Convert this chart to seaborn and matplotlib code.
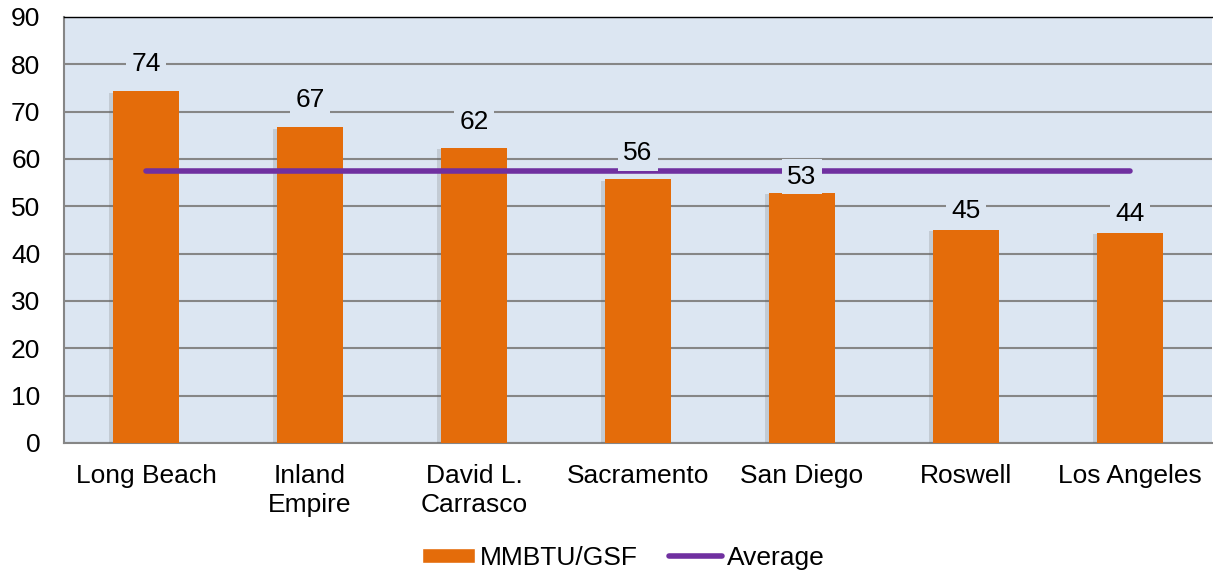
import numpy as np
import pandas as pd
import matplotlib
matplotlib.use('Agg')
import matplotlib.pyplot as plt
import matplotlib.patheffects as pe
from matplotlib.patches import Patch
from matplotlib.lines import Line2D
import seaborn as sns

sites = ['Long Beach', 'Inland\nEmpire', 'David L.\nCarrasco', 'Sacramento',
         'San Diego', 'Roswell', 'Los Angeles']
mmbtu = [74.3, 66.7, 62.4, 55.7, 52.9, 45.0, 44.4]
bar_labels = ['74', '67', '62', '56', '53', '45', '44']
average = [57.4] * len(sites)

# gap between bar top and label centre, in data units (Excel nudges some)
label_gap = [5.7, 5.7, 5.5, 5.5, 3.4, 4.0, 4.0]

ORANGE = '#e46c0a'
PURPLE = '#7030a0'
BG = '#dce6f2'
GRID = '#868686'

sns.set_style('white')
plt.rcParams['font.family'] = ['Liberation Sans', 'DejaVu Sans']
plt.rcParams['text.color'] = 'black'
plt.rcParams['xtick.labelcolor'] = 'black'
plt.rcParams['ytick.labelcolor'] = 'black'

df = pd.DataFrame({'site': sites, 'value': mmbtu, 'avg': average})

fig = plt.figure(figsize=(12.13, 5.78), dpi=100)
ax = fig.add_axes([0.0528, 0.2336, 0.9464, 0.737])
ax.set_facecolor(BG)

sns.barplot(data=df, x='site', y='value', color=ORANGE, saturation=1,
            width=0.4, linewidth=0, ax=ax, zorder=3)
for bar in ax.patches:
    bar.set_path_effects([pe.SimplePatchShadow(offset=(-3, -1), shadow_rgbFace='#606060',
                                               alpha=0.2), pe.Normal()])

sns.lineplot(x=np.arange(len(sites)), y=df['avg'], color=PURPLE, lw=4,
             ax=ax, zorder=4)

for i, (v, lab, g) in enumerate(zip(mmbtu, bar_labels, label_gap)):
    ax.text(i, v + g, lab, ha='center', va='center', fontsize=19, zorder=5,
            bbox=dict(boxstyle='square,pad=0.2', fc=BG, ec='none'))

ax.set_xlim(-0.5, len(sites) - 0.5)
ax.set_ylim(0, 90)
ax.set_yticks(range(0, 91, 10))
ax.yaxis.grid(True, color=GRID, lw=1.5, zorder=1)
ax.set_axisbelow(True)
ax.set_xlabel('')
ax.set_ylabel('')

ax.set_xticks(np.arange(len(sites)))
ax.set_xticklabels(sites, fontsize=19, linespacing=1.25)
ax.set_xticks(np.arange(-0.5, len(sites), 1), minor=True)
ax.tick_params(axis='x', which='major', length=0, pad=15)
ax.tick_params(axis='x', which='minor', length=6, width=1.5, color=GRID,
               direction='out')
ax.tick_params(axis='y', length=6, width=1.5, color=GRID, direction='out',
               labelsize=19, pad=11)

for side in ['left', 'bottom']:
    ax.spines[side].set_color(GRID)
    ax.spines[side].set_linewidth(1.5)
ax.spines['top'].set_color('black')
ax.spines['top'].set_linewidth(1)
ax.spines['right'].set_visible(False)

handles = [Patch(facecolor=ORANGE, label='MMBTU/GSF'),
           Line2D([0], [0], color=PURPLE, lw=4, label='Average')]
fig.legend(handles=handles, loc='center', bbox_to_anchor=(0.514, 0.035),
           ncol=2, frameon=False, fontsize=19, handlelength=2.0,
           handleheight=0.5, handletextpad=0.2, columnspacing=1.2)

fig.savefig('out.png', dpi=100)
